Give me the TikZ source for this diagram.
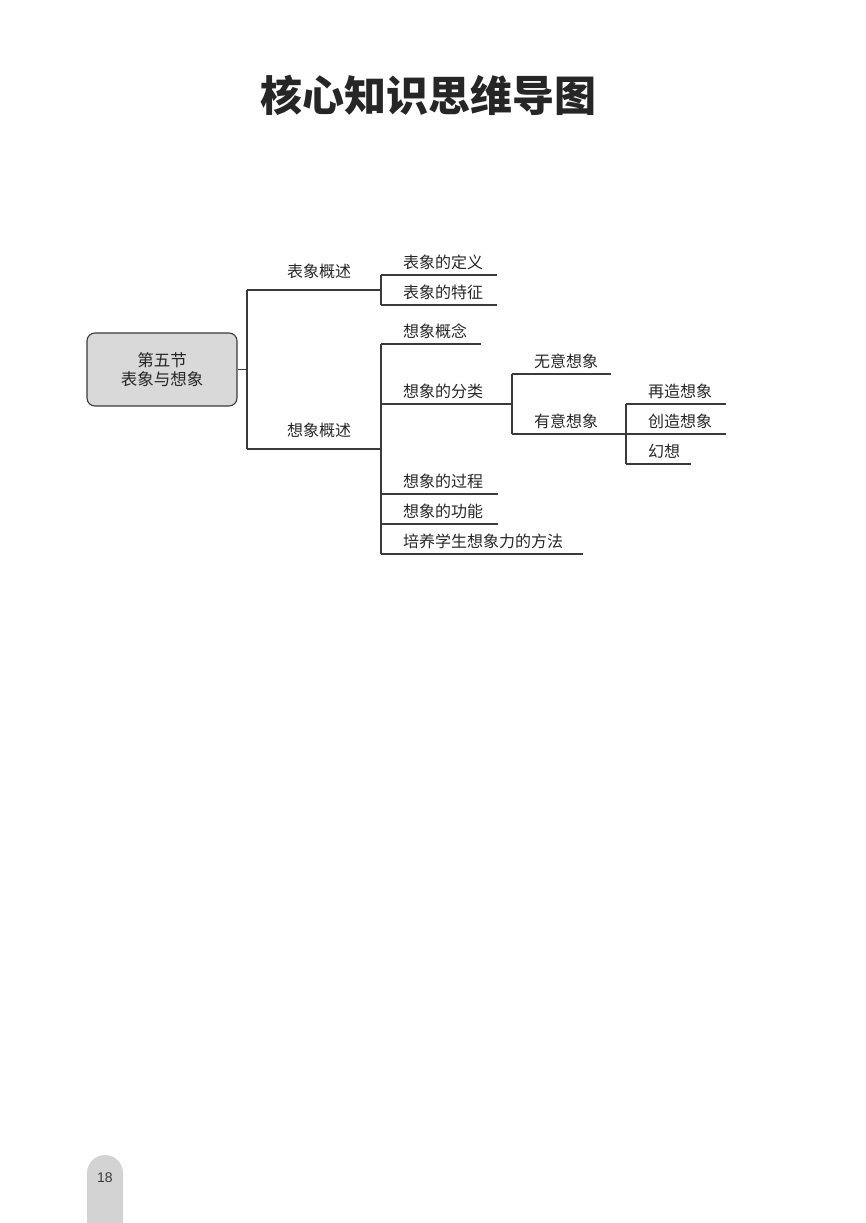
\documentclass[tikz,border=0pt]{standalone}
\usepackage{fontspec}
\setmainfont{Liberation Sans}
\newfontfamily\cjk{Noto Sans CJK SC}

\definecolor{inkgray}{HTML}{3A3A3A}
\definecolor{boxgray}{HTML}{D9D9D9}
\definecolor{tabgray}{HTML}{D3D3D3}

\tikzset{
  link/.style={draw=inkgray, line width=1.2pt},
  topic/.style={anchor=south west, inner sep=0pt, text width=#1, align=left,
    text height=12pt, text depth=6pt, text=black!85,
    font=\cjk\fontsize{16}{16}\selectfont,
    execute at begin node=\hspace*{22pt},
    append after command={(\tikzlastnode.south west) edge[link] (\tikzlastnode.south east)}},
  branch/.style={anchor=south west, inner sep=0pt, text width=#1, align=left,
    text height=12pt, text depth=12pt, text=black!85,
    font=\cjk\fontsize{16}{16}\selectfont,
    execute at begin node=\hspace*{40pt},
    append after command={(\tikzlastnode.south west) edge[link] (\tikzlastnode.south east)}},
  root/.style={rectangle, rounded corners=8pt, draw=inkgray, line width=1.1pt,
    fill=boxgray, minimum width=150pt, minimum height=73pt, align=center,
    text=black!85, font=\cjk\fontsize{16.5}{19}\selectfont},
}

\begin{document}
\begin{tikzpicture}[x=1pt, y=-1pt]
	\useasboundingbox (0,0) rectangle (865,1223);
	% title
	\node[font=\cjk\bfseries\fontsize{42}{42}\selectfont, text=black!85] (title) at (428,95) {核心知识思维导图};
	% mind map
	\node[root] (root) at (162,369.5) {第五节\\表象与想象};
	\node[branch=134pt] (imgsum) at (247,290) {表象概述};
	\node[topic=116pt] (imgdef) at (381,275) {表象的定义};
	\node[topic=116pt] (imgfeat) at (381,305) {表象的特征};
	\node[branch=134pt] (imasum) at (247,449) {想象概述};
	\node[topic=100pt] (imacon) at (381,344) {想象概念};
	\node[topic=131pt] (imacls) at (381,404) {想象的分类};
	\node[topic=99pt] (invol) at (512,374) {无意想象};
	\node[topic=114pt] (vol) at (512,434) {有意想象};
	\node[topic=100pt] (reprod) at (626,404) {再造想象};
	\node[topic=100pt] (creat) at (626,434) {创造想象};
	\node[topic=65pt] (fant) at (626,464) {幻想};
	\node[topic=117pt] (imaproc) at (381,494) {想象的过程};
	\node[topic=117pt] (imafunc) at (381,524) {想象的功能};
	\node[topic=202pt] (imameth) at (381,554) {培养学生想象力的方法};
	\draw[link] (root.east) -- (root.east -| imgsum.south west);
	\draw[link] (imgsum.south west) -- (imasum.south west);
	\draw[link] (imgdef.south west) -- (imgfeat.south west);
	\draw[link] (imacon.south west) -- (imameth.south west);
	\draw[link] (invol.south west) -- (vol.south west);
	\draw[link] (reprod.south west) -- (fant.south west);
	% page tab
	\fill[tabgray] (87,1223) -- (87,1173) arc[start angle=180, end angle=360, radius=18] -- (123,1223) -- cycle;
	\node[font=\fontsize{14}{14}\selectfont, text=inkgray] (pageno) at (105,1178) {18};
\end{tikzpicture}
\end{document}
